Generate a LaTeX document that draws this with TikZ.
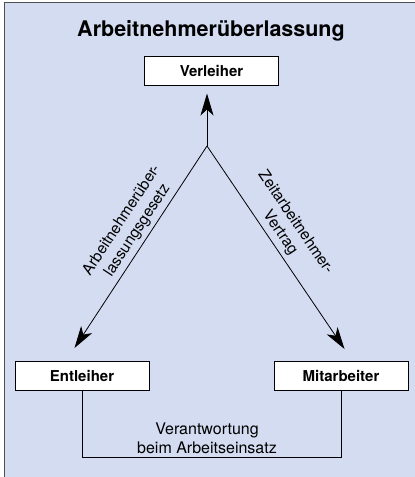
\documentclass[tikz,border=0pt]{standalone}
\usepackage{fontspec}
\setmainfont{TeX Gyre Heros}
\usetikzlibrary{positioning, arrows.meta}
\definecolor{panel}{RGB}{212,220,241}
\definecolor{frame}{RGB}{80,80,80}
\tikzset{party/.style={draw,fill=white,line width=1pt,minimum width=134pt,minimum height=29pt,inner sep=0pt,font=\fontsize{15}{18}\selectfont\bfseries},
         rel/.style={line width=0.8pt,-{Stealth[length=22pt,width=13pt,inset=6pt]}},
         lbl/.style={sloped,above,align=center,inner sep=4pt,font=\fontsize{15.5}{18.6}\selectfont},
        }

\begin{document}
\begin{tikzpicture}[x=1pt,y=-1pt]
        \useasboundingbox (0,0) rectangle (415,477);
        \fill[panel](4.5,2.5)rectangle(415,477);
        \draw[frame,line width=1.6pt](4.5,477)--(4.5,2.5)--(415,2.5);

        \node[font=\fontsize{21.5}{26}\selectfont\bfseries](title)at(211,31){Arbeitnehmerüberlassung};
        \node[party](verl)at(211.5,70.5){Verleiher};
        \node[party](ent)at(82,376){Entleiher};
        \node[party](mit)at(341,376){Mitarbeiter};
        \coordinate(junc)at(207,146);
        \coordinate(lefttip)at(74.5,348);
        \coordinate(righttip)at(344.5,349);

        \draw[rel](junc)--([yshift=-8pt]junc|-verl.south);
        \draw[rel](junc)--node[lbl,pos=0.45]{Arbeitnehmerüber-\\lassungsgesetz}(lefttip);
        \draw[rel](junc)--node[lbl,pos=0.46]{Zeitarbeitnehmer-\\Vertrag}(righttip);
        \draw[line width=0.8pt](ent.south)--++(0,66)-|(mit.south);
        \node[align=center,font=\fontsize{16}{19.5}\selectfont](resp)at(207,438.5){Verantwortung\\beim Arbeitseinsatz};
    \end{tikzpicture}
\end{document}
